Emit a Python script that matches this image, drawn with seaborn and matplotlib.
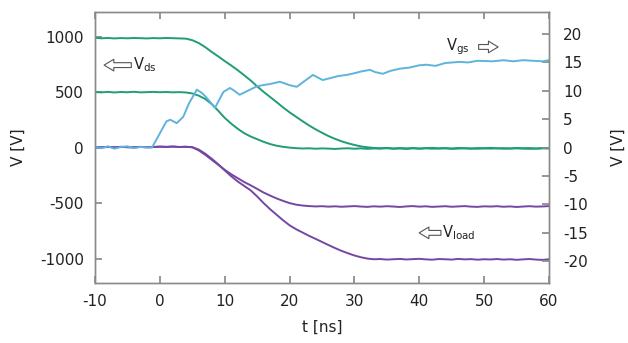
import numpy as np
import pandas as pd
import matplotlib
matplotlib.use("Agg")
import matplotlib.pyplot as plt
import seaborn as sns

# ---------------- data ----------------
t_ns = list(range(-10, 61))  # 1 ns steps

vds_1000 = [990, 985, 988, 984, 987, 985, 988, 986, 984, 987,
            985, 988, 986, 984, 982, 968, 942, 905, 862, 822,
            780, 740, 698, 652, 605, 552, 502, 456, 410, 362,
            318, 278, 238, 200, 165, 134, 104, 79, 57, 39,
            24, 11, 3, -3, -6, -2, -8, -4, -7, -3,
            -9, -5, -2, -7, -4, -8, -3, -6, -9, -4,
            -6, -2, -7, -5, -8, -3, -6, -4, -9, -5, -3]

vds_500 = [500, 498, 502, 497, 501, 499, 503, 498, 500, 502,
           499, 501, 498, 500, 497, 488, 468, 438, 392, 332,
           268, 216, 170, 130, 100, 76, 52, 32, 17, 7,
           0, -5, -8, -6, -10, -7, -9, -12, -8, -6,
           -10, -7, -11, -8, -9, -6, -10, -8, -12, -7,
           -9, -6, -10, -8, -7, -11, -9, -6, -8, -10,
           -7, -9, -6, -10, -8, -7, -9, -11, -8, -6, -9]

vload_500 = [5, 2, 6, 3, 7, 4, 2, 6, 3, 5,
             8, 6, 9, 5, 7, 3, -25, -65, -110, -155,
             -200, -240, -275, -310, -340, -372, -405, -432, -458, -480,
             -500, -514, -522, -527, -530, -528, -532, -529, -533, -530,
             -527, -531, -534, -529, -532, -528, -531, -535, -530, -527,
             -532, -529, -534, -531, -528, -533, -530, -527, -532, -534,
             -529, -531, -528, -533, -530, -535, -531, -528, -532, -530, -527]

vload_1000 = [5, 3, 7, 2, 6, 4, 3, 7, 4, 6,
              9, 7, 10, 6, 8, 4, -18, -55, -100, -150,
              -205, -258, -305, -345, -385, -440, -500, -555, -605, -655,
              -700, -735, -765, -795, -822, -850, -878, -905, -930, -952,
              -972, -988, -1000, -1006, -1004, -1009, -1006, -1003, -1008, -1005,
              -1002, -1007, -1010, -1004, -1006, -1009, -1003, -1007, -1005, -1010,
              -1006, -1008, -1004, -1009, -1006, -1011, -1007, -1004, -1009, -1012, -1006]

t_gs = [-10, -9, -8, -7, -6, -5, -4, -3, -2, -1.2, 0, 1, 1.6, 2.6, 3.6, 4.5,
        5.7, 6.5, 7.2, 8.5, 9.8, 10.8, 11.5, 12.3, 13.9, 15, 15.9, 17, 18.5,
        20, 21.1, 22.4, 23.6, 25.1, 26.5, 27.5, 28.8, 30, 31, 32.4, 33.2,
        34.4, 35.5, 37, 38.5, 40, 41.1, 42.5, 44, 46.2, 47.5, 49, 51.3, 53,
        54.5, 56, 57.5, 59, 60]
vgs = [0.1, -0.1, 0.2, -0.2, 0.1, 0.2, -0.1, 0.1, 0.0, 0.0, 2.5, 4.6, 4.9, 4.3,
       5.4, 7.8, 10.2, 9.6, 8.8, 7.0, 9.8, 10.5, 10.0, 9.3, 10.2, 10.8, 11.0,
       11.2, 11.6, 11.0, 10.7, 11.8, 12.8, 11.9, 12.3, 12.6, 12.8, 13.1, 13.4,
       13.7, 13.3, 13.0, 13.5, 13.9, 14.1, 14.5, 14.6, 14.4, 14.9, 15.1, 15.0,
       15.3, 15.2, 15.4, 15.2, 15.4, 15.3, 15.2, 15.4]

x_ticks = [-10, 0, 10, 20, 30, 40, 50, 60]
y_left_ticks = [-1000, -500, 0, 500, 1000]
y_right_ticks = [-20, -15, -10, -5, 0, 5, 10, 15, 20]

# ---------------- styling ----------------
GREEN = "#1f9c78"
PURPLE = "#7547a3"
BLUE = "#5fb3dc"
FRAME = "#8a8a8a"
TEXT = "#222222"

sns.set_theme(style="white")
plt.rcParams["font.family"] = ["DejaVu Sans"]

fig = plt.figure(figsize=(6.28, 3.43), dpi=100)
ax = fig.add_axes([95 / 628, 1 - 283 / 343, 454 / 628, 271 / 343])
ax2 = ax.twinx()

df_left = pd.DataFrame({"t": t_ns, "vds_1000": vds_1000, "vds_500": vds_500,
                        "vload_500": vload_500, "vload_1000": vload_1000})
for col, colr in [("vds_1000", GREEN), ("vds_500", GREEN),
                  ("vload_500", PURPLE), ("vload_1000", PURPLE)]:
    sns.lineplot(data=df_left, x="t", y=col, ax=ax, color=colr, lw=1.4,
                 estimator=None, sort=False)

df_gs = pd.DataFrame({"t": t_gs, "vgs": vgs})
sns.lineplot(data=df_gs, x="t", y="vgs", ax=ax2, color=BLUE, lw=1.4,
             estimator=None, sort=False)

ax.set_xlim(-10, 60)
ax.set_ylim(-1220, 1222)
ax2.set_ylim(-23.9, 23.9)

ax.set_xticks(x_ticks)
ax.set_yticks(y_left_ticks)
ax2.set_yticks(y_right_ticks)
ax.set_xticklabels([str(v) for v in x_ticks])
ax.set_yticklabels([str(v) for v in y_left_ticks])
ax2.set_yticklabels([str(v) for v in y_right_ticks])

for a in (ax, ax2):
    for s in a.spines.values():
        s.set_color(FRAME)
        s.set_linewidth(1.0)
        s.set_visible(True)

ax.tick_params(axis="x", direction="in", top=True, bottom=True, length=5,
               color=FRAME, labelsize=11, labelcolor=TEXT, pad=8)
ax.tick_params(axis="y", direction="in", left=True, right=False, length=5,
               color=FRAME, labelsize=11, labelcolor=TEXT, pad=8)
ax2.tick_params(axis="y", direction="in", right=True, left=False, length=5,
                color=FRAME, labelsize=11, labelcolor=TEXT, pad=10)

ax.set_xlabel("t [ns]", fontsize=11, color=TEXT, labelpad=8)
ax.set_ylabel("V [V]", fontsize=11, color=TEXT, labelpad=10)
ax2.set_ylabel("V [V]", fontsize=11, color=TEXT, rotation=90, labelpad=17)

# annotations with hollow arrows
arrow_kw = dict(arrowstyle="simple,head_width=0.6,head_length=0.5,tail_width=0.25",
                fc="white", ec="#555555", lw=0.8, mutation_scale=14,
                shrinkA=0, shrinkB=0)
ax.annotate("", xy=(0.020, 0.804), xytext=(0.080, 0.804),
            xycoords="axes fraction", textcoords="axes fraction", arrowprops=arrow_kw)
ax.text(0.083, 0.804, r"V$_{\rm ds}$", transform=ax.transAxes, fontsize=10.5,
        color=TEXT, va="center", ha="left")

ax.annotate("", xy=(0.714, 0.185), xytext=(0.762, 0.185),
            xycoords="axes fraction", textcoords="axes fraction", arrowprops=arrow_kw)
ax.text(0.764, 0.185, r"V$_{\rm load}$", transform=ax.transAxes, fontsize=10.5,
        color=TEXT, va="center", ha="left")

ax.text(0.773, 0.871, r"V$_{\rm gs}$", transform=ax.transAxes, fontsize=10.5,
        color=TEXT, va="center", ha="left")
ax.annotate("", xy=(0.888, 0.871), xytext=(0.845, 0.871),
            xycoords="axes fraction", textcoords="axes fraction", arrowprops=arrow_kw)

fig.savefig("out.png", dpi=100)
